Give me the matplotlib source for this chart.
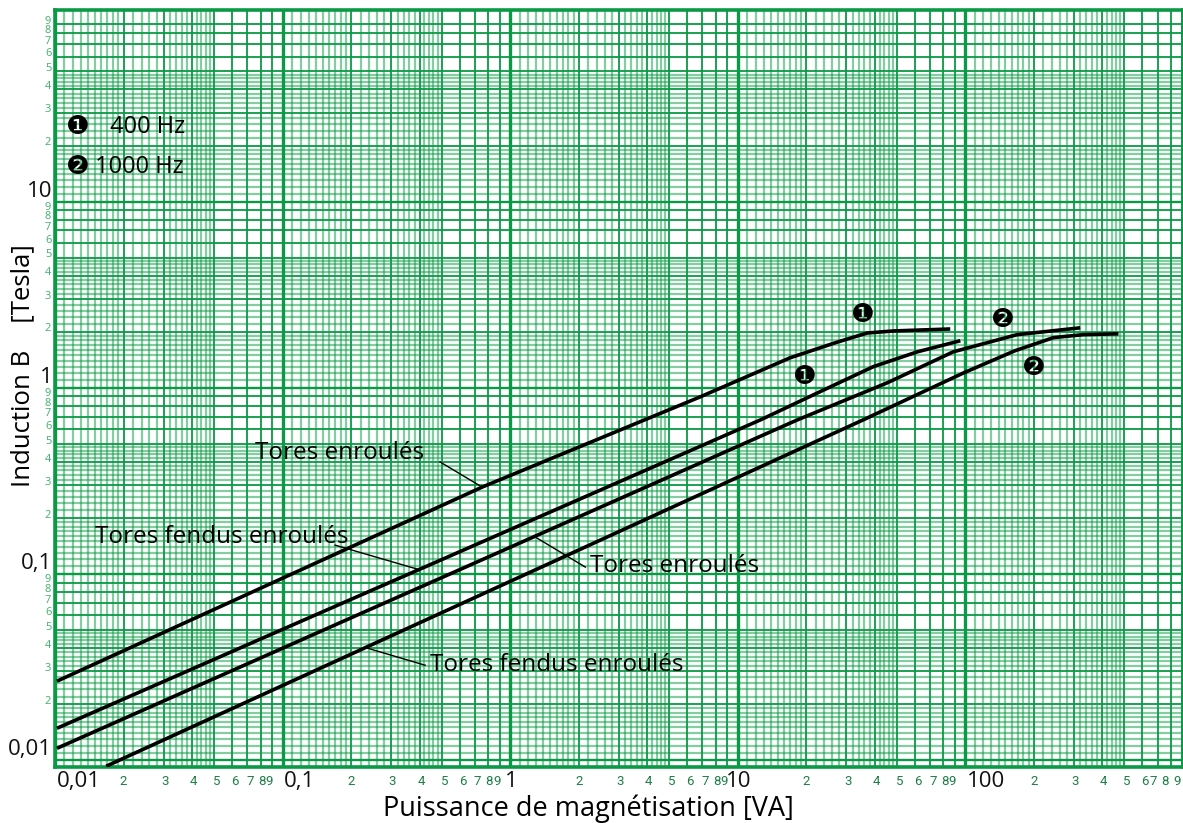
import numpy as np
import matplotlib.pyplot as plt

plt.rcParams['font.family'] = ['Open Sans', 'DejaVu Sans']

# Courbes B = f(P) -- 400 Hz et 1000 Hz
a_x = [0.0102, 0.753, 6.84, 17.0, 27.0, 37.1, 48.3, 85.9]
a_y = [0.0266, 0.293, 0.894, 1.45, 1.75, 1.97, 2.02, 2.07]

b_x = [0.0102, 12.6, 25.0, 39.5, 61.5, 95.1]
b_y = [0.01486, 0.673, 1.0, 1.30, 1.56, 1.79]

c_x = [0.0102, 18.3, 45.4, 88.5, 169.0, 320.0]
c_y = [0.0116, 0.673, 1.064, 1.56, 1.93, 2.10]

d_x = [0.0168, 35.6, 97.9, 165.0, 244.0, 330.0, 471.0]
d_y = [0.0093, 0.673, 1.20, 1.58, 1.86, 1.93, 1.95]

x_major = [0.01, 0.1, 1, 10, 100]
x_major_labels = ['0,01', '0,1', '1', '10', '100']
y_major = [0.01, 0.1, 1, 10]
y_major_labels = ['0,01', '0,1', '1', '10']
minor_digits = [2, 3, 4, 5, 6, 7, 8, 9]

GREEN = '#0a9a45'
XMIN, XMAX = 0.01, 905
YMIN, YMAX = 0.0092, 107

fig = plt.figure(figsize=(11.83, 8.23), dpi=100)
ax = fig.add_axes([0.0465, 0.068, 0.9535, 0.92])
ax.set_xscale('log')
ax.set_yscale('log')
ax.set_xlim(XMIN, XMAX)
ax.set_ylim(YMIN, YMAX)


def paper_lines(decades):
    """Positions of graph-paper lines: (value, weight)"""
    out = []
    for d in decades:
        for m in np.arange(1.0, 10.0, 0.1):
            m = round(m, 2)
            if m >= 2 and round(m * 10) % 2:
                continue
            if m >= 5 and round(m * 10) % 5:
                continue
            if m == 1:
                w = 'decade'
            elif m == int(m):
                w = 'dark'
            else:
                w = 'light'
            out.append((m * d, w))
    return out


v_styles = {'decade': dict(color=GREEN, lw=2.4, alpha=1.0),
            'dark': dict(color=GREEN, lw=1.3, alpha=1.0),
            'light': dict(color=GREEN, lw=1.6, alpha=0.5)}
h_styles = {'decade': dict(color=GREEN, lw=1.7, alpha=1.0),
            'dark': dict(color=GREEN, lw=1.3, alpha=1.0),
            'light': dict(color=GREEN, lw=1.6, alpha=0.5)}

for v, w in paper_lines([0.01, 0.1, 1, 10, 100]):
    ax.axvline(v, zorder=1, **v_styles[w])
for v, w in paper_lines([0.001, 0.01, 0.1, 1, 10]):
    ax.axhline(v, zorder=1, **h_styles[w])

for s in ax.spines.values():
    s.set_color(GREEN)
    s.set_linewidth(2.6)

ax.set_xticks([])
ax.set_yticks([])
ax.minorticks_off()

# labels of the decades
for v, lab in zip(x_major, x_major_labels):
    centred = lab in ('1', '10')
    ax.annotate(lab, (v, YMIN), xytext=(1 if centred else 1, -3),
                textcoords='offset points', ha='center' if centred else 'left',
                va='top', fontsize=16, color='#111111', annotation_clip=False)
for v, lab in zip(y_major, y_major_labels):
    ax.annotate(lab, (XMIN, v), xytext=(-2, 0), textcoords='offset points',
                ha='right', va='bottom', fontsize=16, color='#111111',
                annotation_clip=False)

# labels 2..9 inside each decade
x_shift = {2: 0, 3: 1, 4: 1, 5: 2, 6: 2, 7: 2, 8: 1, 9: -2}
last_shift = {7: -3, 8: -4}
for d in x_major:
    for m in minor_digits:
        if m * d > XMAX:
            continue
        if d == x_major[-1] and m == 9:
            ax.annotate(str(m), (m * d, YMIN), xytext=(-1, -6), textcoords='offset points',
                        ha='right', va='top', fontsize=9.5, color='#1e7f45',
                        family='Roboto', annotation_clip=False)
            continue
        dx = last_shift.get(m, x_shift[m]) if d == x_major[-1] else x_shift[m]
        ax.annotate(str(m), (m * d, YMIN), xytext=(dx, -6),
                    textcoords='offset points', ha='center',
                    va='top', fontsize=9.5, color='#1e7f45', family='Roboto',
                    annotation_clip=False)
for d in y_major:
    for m in minor_digits:
        ax.annotate(str(m), (XMIN, m * d), xytext=(-5, 2), textcoords='offset points',
                    ha='center', va='center', fontsize=8, color='#3db36a',
                    annotation_clip=False)

ax.set_xlabel('Puissance de magnétisation [VA]', fontsize=19.5)
ax.xaxis.set_label_coords(0.473, -0.036, transform=ax.transAxes)
ax.xaxis.label.set_va('top')
fig.text(0.019, 0.556, 'Induction B    [Tesla]', rotation=90, ha='center',
         va='center', fontsize=18.5)

for xs, ys in [(a_x, a_y), (b_x, b_y), (c_x, c_y), (d_x, d_y)]:
    ax.plot(xs, ys, color='black', lw=2.6, solid_capstyle='butt', zorder=3)

# leader lines from the names to the curves
leaders = [((0.753, 0.293), (0.492, 0.40)),
           ((0.394, 0.106), (0.170, 0.143)),
           ((1.29, 0.158), (2.14, 0.109)),
           ((0.231, 0.0403), (0.423, 0.0324))]
for tip, end in leaders:
    ax.plot([tip[0], end[0]], [tip[1], end[1]], color='black', lw=1.0, zorder=3)

name = dict(fontsize=17.5, ha='left', va='center', zorder=4)
ax.text(0.0757, 0.447, 'Tores enroulés', **name)
ax.text(0.0150, 0.158, 'Tores fendus enroulés', **name)
ax.text(2.25, 0.110, 'Tores enroulés', **name)
ax.text(0.446, 0.0324, 'Tores fendus enroulés', **name)

# curve numbers
circ = dict(fontsize=19, ha='center', va='center', family='DejaVu Sans', zorder=4)
ax.text(35.6, 2.47, '\u2776', **circ)
ax.text(19.7, 1.146, '\u2776', **circ)
ax.text(146, 2.32, '\u2777', **circ)
ax.text(200, 1.28, '\u2777', **circ)

ax.text(0.0112, 25.0, '\u2776', **dict(circ, ha='left'))
ax.text(0.0164, 25.0, ' 400 Hz', fontsize=17, ha='left', va='center', zorder=4)
ax.text(0.0112, 15.3, '\u2777', **dict(circ, ha='left'))
ax.text(0.0150, 15.3, '1000 Hz', fontsize=17, ha='left', va='center', zorder=4)

fig.savefig('out.png', dpi=100)
